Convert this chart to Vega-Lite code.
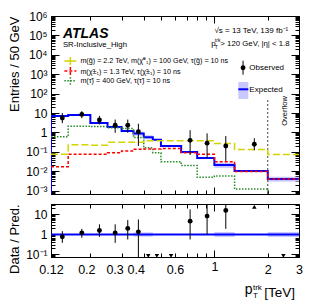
{
 "$schema": "https://vega.github.io/schema/vega-lite/v6.json",
 "padding": {"left": 7, "top": 9, "right": 0, "bottom": 0},
 "background": "white",
 "config": {
  "font": "Liberation Sans",
  "view": {"stroke": "black", "strokeWidth": 1},
  "axis": {"grid": false, "domainColor": "black", "tickColor": "black", "labelColor": "black", "titleColor": "black", "labelFont": "Liberation Sans", "titleFont": "Liberation Sans", "titleFontWeight": "normal", "labelFontSize": 12, "titleFontSize": 13, "labelOverlap": false, "labelFlush": false, "tickWidth": 1, "domainWidth": 1}
 },
 "bounds": "flush",
 "spacing": 10,
 "vconcat": [
  {
   "width": 248, "height": 178,
   "resolve": {"axis": {"x": "independent", "y": "independent"}},
   "layer": [
    {
     "data": {"values": [
      {"x": 0.12, "x2": 0.15, "lo": 6.44, "hi": 7.56},
      {"x": 0.15, "x2": 0.2, "lo": 7.27, "hi": 8.53},
      {"x": 0.2, "x2": 0.25, "lo": 2.8, "hi": 3.3},
      {"x": 0.25, "x2": 0.3, "lo": 1.75, "hi": 2.05},
      {"x": 0.3, "x2": 0.35, "lo": 1.07, "hi": 1.27},
      {"x": 0.35, "x2": 0.4, "lo": 0.68, "hi": 1.1},
      {"x": 0.4, "x2": 0.45, "lo": 0.44, "hi": 0.71},
      {"x": 0.45, "x2": 0.5, "lo": 0.37, "hi": 0.47},
      {"x": 0.5, "x2": 0.65, "lo": 0.184, "hi": 0.216},
      {"x": 0.65, "x2": 0.8, "lo": 0.09, "hi": 0.106},
      {"x": 0.8, "x2": 1.0, "lo": 0.044, "hi": 0.052},
      {"x": 1.0, "x2": 1.3, "lo": 0.015, "hi": 0.027},
      {"x": 1.3, "x2": 2.0, "lo": 0.0092, "hi": 0.0112},
      {"x": 2.0, "x2": 3.0, "lo": 0.0029, "hi": 0.0052}
     ]},
     "mark": {"type": "rect", "fill": "#c8c8ff", "clip": true},
     "encoding": {
      "x": {"field": "x", "type": "quantitative", "scale": {"type": "log", "domain": [0.12, 3], "nice": false},
       "axis": {"orient": "bottom", "values": [0.2, 0.3, 0.4, 0.5, 0.6, 0.7, 0.8, 0.9, 1, 2], "labels": false, "title": null, "tickSize": {"condition": {"test": "datum.value == 1", "value": -7}, "value": -4}}},
      "x2": {"field": "x2"},
      "y": {"field": "lo", "type": "quantitative", "scale": {"type": "log", "domain": [0.00067, 1000000], "nice": false},
       "axis": {"orient": "left", "title": "Entries / 50 GeV", "titleAnchor": "end", "titlePadding": 4, "minExtent": 26, "maxExtent": 26, "labelPadding": 12,
        "values": [0.0007, 0.0008, 0.0009, 0.001, 0.002, 0.003, 0.004, 0.005, 0.006, 0.007, 0.008, 0.009, 0.01, 0.02, 0.03, 0.04, 0.05, 0.06, 0.07, 0.08, 0.09, 0.1, 0.2, 0.3, 0.4, 0.5, 0.6, 0.7, 0.8, 0.9, 1, 2, 3, 4, 5, 6, 7, 8, 9, 10, 20, 30, 40, 50, 60, 70, 80, 90, 100, 200, 300, 400, 500, 600, 700, 800, 900, 1000, 2000, 3000, 4000, 5000, 6000, 7000, 8000, 9000, 10000, 20000, 30000, 40000, 50000, 60000, 70000, 80000, 90000, 100000, 200000, 300000, 400000, 500000, 600000, 700000, 800000, 900000, 1000000],
        "labelExpr": "datum.value==1000000?'10⁶':datum.value==100000?'10⁵':datum.value==10000?'10⁴':datum.value==1000?'10³':datum.value==100?'10²':datum.value==10?'10':datum.value==1?'1':datum.value==0.1?'10⁻¹':datum.value==0.01?'10⁻²':datum.value==0.001?'10⁻³':''",
        "tickSize": {"condition": {"test": "datum.value==1000000||datum.value==100000||datum.value==10000||datum.value==1000||datum.value==100||datum.value==10||datum.value==1||datum.value==0.1||datum.value==0.01||datum.value==0.001", "value": -8}, "value": -4}}},
      "y2": {"field": "hi"}
     }
    },
    {
     "data": {"values": [{"x": 2.0, "y": 0.00067, "y2": 59}]},
     "mark": {"type": "rule", "strokeDash": [2, 2], "color": "#444444", "strokeWidth": 1},
     "encoding": {
      "x": {"field": "x", "type": "quantitative", "scale": {"type": "log", "domain": [0.12, 3], "nice": false},
       "axis": {"orient": "top", "values": [0.2, 0.3, 0.4, 0.5, 0.6, 0.7, 0.8, 0.9, 1, 2], "labels": false, "title": null, "tickSize": {"condition": {"test": "datum.value == 1", "value": -7}, "value": -4}}},
      "y": {"field": "y", "type": "quantitative", "scale": {"type": "log", "domain": [0.00067, 1000000], "nice": false},
       "axis": {"orient": "right", "title": null, "labels": false,
        "values": [0.0007, 0.0008, 0.0009, 0.001, 0.002, 0.003, 0.004, 0.005, 0.006, 0.007, 0.008, 0.009, 0.01, 0.02, 0.03, 0.04, 0.05, 0.06, 0.07, 0.08, 0.09, 0.1, 0.2, 0.3, 0.4, 0.5, 0.6, 0.7, 0.8, 0.9, 1, 2, 3, 4, 5, 6, 7, 8, 9, 10, 20, 30, 40, 50, 60, 70, 80, 90, 100, 200, 300, 400, 500, 600, 700, 800, 900, 1000, 2000, 3000, 4000, 5000, 6000, 7000, 8000, 9000, 10000, 20000, 30000, 40000, 50000, 60000, 70000, 80000, 90000, 100000, 200000, 300000, 400000, 500000, 600000, 700000, 800000, 900000, 1000000],
        "tickSize": {"condition": {"test": "datum.value==1000000||datum.value==100000||datum.value==10000||datum.value==1000||datum.value==100||datum.value==10||datum.value==1||datum.value==0.1||datum.value==0.01||datum.value==0.001", "value": -8}, "value": -4}}},
      "y2": {"field": "y2"}
     }
    },
    {
     "data": {"values": [
      {"i": 0, "x": 0.12, "y": 0.0001}, {"i": 1, "x": 0.12, "y": 7.0}, {"i": 2, "x": 0.15, "y": 7.9}, {"i": 3, "x": 0.2, "y": 3.05}, {"i": 4, "x": 0.25, "y": 1.9}, {"i": 5, "x": 0.3, "y": 1.17}, {"i": 6, "x": 0.35, "y": 0.88}, {"i": 7, "x": 0.4, "y": 0.57}, {"i": 8, "x": 0.45, "y": 0.42}, {"i": 9, "x": 0.5, "y": 0.2}, {"i": 10, "x": 0.65, "y": 0.098}, {"i": 11, "x": 0.8, "y": 0.048}, {"i": 12, "x": 1.0, "y": 0.021}, {"i": 13, "x": 1.3, "y": 0.0102}, {"i": 14, "x": 2.0, "y": 0.004}, {"i": 15, "x": 3.0, "y": 0.004}
     ]},
     "mark": {"type": "line", "interpolate": "step-after", "color": "#0000ff", "strokeWidth": 2, "clip": true},
     "encoding": {
      "x": {"field": "x", "type": "quantitative", "scale": {"type": "log", "domain": [0.12, 3], "nice": false}, "axis": null},
      "y": {"field": "y", "type": "quantitative", "scale": {"type": "log", "domain": [0.00067, 1000000], "nice": false}, "axis": null},
      "order": {"field": "i", "type": "quantitative"}
     }
    },
    {
     "data": {"values": [
      {"i": 1, "x": 0.12, "y": 0.6}, {"i": 2, "x": 0.15, "y": 2.1}, {"i": 3, "x": 0.2, "y": 2.0}, {"i": 4, "x": 0.25, "y": 1.75}, {"i": 5, "x": 0.3, "y": 1.6}, {"i": 6, "x": 0.35, "y": 0.55}, {"i": 7, "x": 0.4, "y": 0.16}, {"i": 8, "x": 0.45, "y": 0.09}, {"i": 9, "x": 0.5, "y": 0.031}, {"i": 10, "x": 0.65, "y": 0.02}, {"i": 11, "x": 0.8, "y": 0.0049}, {"i": 12, "x": 1.0, "y": 0.0057}, {"i": 13, "x": 1.3, "y": 0.0012}, {"i": 14, "x": 2.0, "y": 0.0001}, {"i": 15, "x": 3.0, "y": 0.0001}
     ]},
     "mark": {"type": "line", "interpolate": "step-after", "color": "#2a8a2a", "strokeWidth": 1.5, "strokeDash": [1.5, 1.5], "clip": true},
     "encoding": {
      "x": {"field": "x", "type": "quantitative", "scale": {"type": "log", "domain": [0.12, 3], "nice": false}, "axis": null},
      "y": {"field": "y", "type": "quantitative", "scale": {"type": "log", "domain": [0.00067, 1000000], "nice": false}, "axis": null},
      "order": {"field": "i", "type": "quantitative"}
     }
    },
    {
     "data": {"values": [
      {"i": 1, "x": 0.12, "y": 0.017}, {"i": 2, "x": 0.15, "y": 0.074}, {"i": 3, "x": 0.2, "y": 0.074}, {"i": 4, "x": 0.25, "y": 0.089}, {"i": 5, "x": 0.3, "y": 0.11}, {"i": 6, "x": 0.35, "y": 0.134}, {"i": 7, "x": 0.4, "y": 0.14}, {"i": 8, "x": 0.45, "y": 0.14}, {"i": 9, "x": 0.5, "y": 0.147}, {"i": 10, "x": 0.65, "y": 0.09}, {"i": 11, "x": 0.8, "y": 0.074}, {"i": 12, "x": 1.0, "y": 0.031}, {"i": 13, "x": 1.3, "y": 0.0096}, {"i": 14, "x": 2.0, "y": 0.004}, {"i": 15, "x": 3.0, "y": 0.004}
     ]},
     "mark": {"type": "line", "interpolate": "step-after", "color": "#ff0000", "strokeWidth": 1.5, "strokeDash": [3, 2], "clip": true},
     "encoding": {
      "x": {"field": "x", "type": "quantitative", "scale": {"type": "log", "domain": [0.12, 3], "nice": false}, "axis": null},
      "y": {"field": "y", "type": "quantitative", "scale": {"type": "log", "domain": [0.00067, 1000000], "nice": false}, "axis": null},
      "order": {"field": "i", "type": "quantitative"}
     }
    },
    {
     "data": {"values": [
      {"i": 1, "x": 0.12, "y": 0.074}, {"i": 2, "x": 0.15, "y": 0.23}, {"i": 3, "x": 0.2, "y": 0.22}, {"i": 4, "x": 0.25, "y": 0.31}, {"i": 5, "x": 0.3, "y": 0.31}, {"i": 6, "x": 0.35, "y": 0.31}, {"i": 7, "x": 0.4, "y": 0.37}, {"i": 8, "x": 0.45, "y": 0.37}, {"i": 9, "x": 0.5, "y": 0.37}, {"i": 10, "x": 0.65, "y": 0.37}, {"i": 11, "x": 0.8, "y": 0.37}, {"i": 12, "x": 1.0, "y": 0.27}, {"i": 13, "x": 1.3, "y": 0.13}, {"i": 14, "x": 2.0, "y": 0.072}, {"i": 15, "x": 3.0, "y": 0.072}
     ]},
     "mark": {"type": "line", "interpolate": "step-after", "color": "#d4d400", "strokeWidth": 1.5, "strokeDash": [7, 3], "clip": true},
     "encoding": {
      "x": {"field": "x", "type": "quantitative", "scale": {"type": "log", "domain": [0.12, 3], "nice": false}, "axis": null},
      "y": {"field": "y", "type": "quantitative", "scale": {"type": "log", "domain": [0.00067, 1000000], "nice": false}, "axis": null},
      "order": {"field": "i", "type": "quantitative"}
     }
    },
    {
     "data": {"values": [
      {"x": 0.139, "y": 5.5, "lo": 3.0, "hi": 10}, {"x": 0.179, "y": 8.5, "lo": 5.4, "hi": 12.5}, {"x": 0.225, "y": 4.4, "lo": 2.6, "hi": 7.1}, {"x": 0.276, "y": 2.35, "lo": 0.96, "hi": 4.6}, {"x": 0.325, "y": 2.35, "lo": 0.96, "hi": 4.6}, {"x": 0.373, "y": 1.09, "lo": 0.2, "hi": 2.8}, {"x": 0.73, "y": 0.39, "lo": 0.069, "hi": 1.3}, {"x": 0.91, "y": 0.28, "lo": 0.05, "hi": 0.89}, {"x": 1.16, "y": 0.2, "lo": 0.034, "hi": 0.65}, {"x": 1.68, "y": 0.245, "lo": 0.12, "hi": 0.5}, {"x": 1.451, "y": 2163, "lo": 942, "hi": 4970}
     ]},
     "layer": [
      {"mark": {"type": "rule", "color": "black", "strokeWidth": 1},
       "encoding": {
        "x": {"field": "x", "type": "quantitative", "scale": {"type": "log", "domain": [0.12, 3], "nice": false}, "axis": null},
        "y": {"field": "lo", "type": "quantitative", "scale": {"type": "log", "domain": [0.00067, 1000000], "nice": false}, "axis": null},
        "y2": {"field": "hi"}}},
      {"mark": {"type": "point", "filled": true, "color": "black", "opacity": 1, "size": 24},
       "encoding": {
        "x": {"field": "x", "type": "quantitative", "scale": {"type": "log", "domain": [0.12, 3], "nice": false}, "axis": null},
        "y": {"field": "y", "type": "quantitative", "scale": {"type": "log", "domain": [0.00067, 1000000], "nice": false}, "axis": null}}}
     ]
    },
    {
     "data": {"values": [{"x": 1.365, "x2": 1.554, "lo": 52.7, "hi": 396}]},
     "mark": {"type": "rect", "fill": "#c8c8ff"},
     "encoding": {
      "x": {"field": "x", "type": "quantitative", "scale": {"type": "log", "domain": [0.12, 3], "nice": false}, "axis": null},
      "x2": {"field": "x2"},
      "y": {"field": "lo", "type": "quantitative", "scale": {"type": "log", "domain": [0.00067, 1000000], "nice": false}, "axis": null},
      "y2": {"field": "hi"}
     }
    },
    {
     "data": {"values": [{"x": 1.365, "x2": 1.554, "y": 167, "y2": 167}]},
     "mark": {"type": "rule", "color": "#0000ff", "strokeWidth": 2},
     "encoding": {
      "x": {"field": "x", "type": "quantitative", "scale": {"type": "log", "domain": [0.12, 3], "nice": false}, "axis": null},
      "x2": {"field": "x2"},
      "y": {"field": "y", "type": "quantitative", "scale": {"type": "log", "domain": [0.00067, 1000000], "nice": false}, "axis": null},
      "y2": {"field": "y2"}
     }
    },
    {
     "data": {"values": [{"x": 0.1427, "x2": 0.1667, "y": 4786, "y2": 4786}, {"x": 0.1543, "x2": 0.1543, "y": 2978, "y2": 7690}]},
     "mark": {"type": "rule", "color": "#d4d400", "strokeWidth": 1.5},
     "encoding": {
      "x": {"field": "x", "type": "quantitative", "scale": {"type": "log", "domain": [0.12, 3], "nice": false}, "axis": null},
      "x2": {"field": "x2"},
      "y": {"field": "y", "type": "quantitative", "scale": {"type": "log", "domain": [0.00067, 1000000], "nice": false}, "axis": null},
      "y2": {"field": "y2"}
     }
    },
    {
     "data": {"values": [{"x": 0.1427, "x2": 0.1667, "y": 1462, "y2": 1462}, {"x": 0.1543, "x2": 0.1543, "y": 910, "y2": 2350}]},
     "mark": {"type": "rule", "color": "#ff0000", "strokeWidth": 1.5, "strokeDash": [3, 2]},
     "encoding": {
      "x": {"field": "x", "type": "quantitative", "scale": {"type": "log", "domain": [0.12, 3], "nice": false}, "axis": null},
      "x2": {"field": "x2"},
      "y": {"field": "y", "type": "quantitative", "scale": {"type": "log", "domain": [0.00067, 1000000], "nice": false}, "axis": null},
      "y2": {"field": "y2"}
     }
    },
    {
     "data": {"values": [{"x": 0.1427, "x2": 0.1667, "y": 462, "y2": 462}, {"x": 0.1543, "x2": 0.1543, "y": 288, "y2": 742}]},
     "mark": {"type": "rule", "color": "#2a8a2a", "strokeWidth": 1.5, "strokeDash": [1.5, 1.5]},
     "encoding": {
      "x": {"field": "x", "type": "quantitative", "scale": {"type": "log", "domain": [0.12, 3], "nice": false}, "axis": null},
      "x2": {"field": "x2"},
      "y": {"field": "y", "type": "quantitative", "scale": {"type": "log", "domain": [0.00067, 1000000], "nice": false}, "axis": null},
      "y2": {"field": "y2"}
     }
    },
    {
     "data": {"values": [
      {"x": 0.14, "y": 23800, "t": "SR-Inclusive_High", "s": 7.8},
      {"x": 0.1757, "y": 3565, "t": "m(g̃) = 2.2 TeV, m(χ̃⁰₁) = 100 GeV, τ(g̃) = 10 ns", "s": 7.2},
      {"x": 0.1757, "y": 1087, "t": "m(χ̃±₁) = 1.3 TeV, τ(χ̃±₁) = 10 ns", "s": 7.2},
      {"x": 0.1757, "y": 344, "t": "m(τ̃) =  400 GeV, τ(τ̃) = 10 ns", "s": 7.2},
      {"x": 1.575, "y": 1553, "t": "Observed", "s": 8},
      {"x": 1.575, "y": 121, "t": "Expected", "s": 8},
      {"x": 0.961, "y": 28500, "t": "p", "s": 8},
      {"x": 1.0065, "y": 45700, "t": "trk", "s": 5},
      {"x": 1.0065, "y": 21100, "t": "T", "s": 5},
      {"x": 1.081, "y": 28500, "t": "> 120 GeV, |η| < 1.8", "s": 7.8}
     ]},
     "mark": {"type": "text", "align": "left", "baseline": "alphabetic", "color": "black"},
     "encoding": {
      "x": {"field": "x", "type": "quantitative", "scale": {"type": "log", "domain": [0.12, 3], "nice": false}, "axis": null},
      "y": {"field": "y", "type": "quantitative", "scale": {"type": "log", "domain": [0.00067, 1000000], "nice": false}, "axis": null},
      "text": {"field": "t"},
      "size": {"field": "s", "type": "quantitative", "scale": null}
     }
    },
    {
     "data": {"values": [{"x": 2.61, "y": 141000, "t": "√s = 13 TeV,  139 fb⁻¹"}]},
     "mark": {"type": "text", "align": "right", "baseline": "alphabetic", "color": "black", "fontSize": 8},
     "encoding": {
      "x": {"field": "x", "type": "quantitative", "scale": {"type": "log", "domain": [0.12, 3], "nice": false}, "axis": null},
      "y": {"field": "y", "type": "quantitative", "scale": {"type": "log", "domain": [0.00067, 1000000], "nice": false}, "axis": null},
      "text": {"field": "t"}
     }
    },
    {
     "data": {"values": [{"x": 0.14, "y": 73400, "t": "ATLAS"}]},
     "mark": {"type": "text", "align": "left", "baseline": "alphabetic", "color": "black", "fontSize": 14, "fontWeight": "bold", "fontStyle": "italic"},
     "encoding": {
      "x": {"field": "x", "type": "quantitative", "scale": {"type": "log", "domain": [0.12, 3], "nice": false}, "axis": null},
      "y": {"field": "y", "type": "quantitative", "scale": {"type": "log", "domain": [0.00067, 1000000], "nice": false}, "axis": null},
      "text": {"field": "t"}
     }
    },
    {
     "data": {"values": [{"x": 2.51, "y": 12.7, "t": "Overflow"}]},
     "mark": {"type": "text", "align": "center", "baseline": "middle", "angle": 270, "color": "black", "fontSize": 7.5},
     "encoding": {
      "x": {"field": "x", "type": "quantitative", "scale": {"type": "log", "domain": [0.12, 3], "nice": false}, "axis": null},
      "y": {"field": "y", "type": "quantitative", "scale": {"type": "log", "domain": [0.00067, 1000000], "nice": false}, "axis": null},
      "text": {"field": "t"}
     }
    }
   ]
  },
  {
   "width": 248, "height": 53,
   "resolve": {"axis": {"x": "independent", "y": "independent"}},
   "layer": [
    {
     "data": {"values": [
      {"x": 0.12, "x2": 0.35, "lo": 0.97, "hi": 1.03},
      {"x": 0.35, "x2": 0.45, "lo": 0.78, "hi": 1.27},
      {"x": 0.45, "x2": 1.0, "lo": 0.97, "hi": 1.03},
      {"x": 1.0, "x2": 1.3, "lo": 0.75, "hi": 1.32},
      {"x": 1.3, "x2": 2.0, "lo": 0.95, "hi": 1.05},
      {"x": 2.0, "x2": 3.0, "lo": 0.75, "hi": 1.32}
     ]},
     "mark": {"type": "rect", "fill": "#c8c8ff", "clip": true},
     "encoding": {
      "x": {"field": "x", "type": "quantitative", "scale": {"type": "log", "domain": [0.12, 3], "nice": false},
       "axis": {"orient": "bottom", "values": [0.12, 0.2, 0.3, 0.4, 0.5, 0.6, 0.7, 0.8, 0.9, 1, 2, 3], "labelExpr": "indexof([0.12, 0.2, 0.3, 0.4, 0.6, 1, 2, 3], datum.value) >= 0 ? '' + datum.value : ''", "labelPadding": 10, "labelFontSize": 12.5, "title": null,
        "labelOffset": {"condition": [{"test": "datum.value == 0.2", "value": -4}, {"test": "datum.value == 0.3", "value": -7}, {"test": "datum.value == 0.4", "value": -8}], "value": 0},
        "tickSize": {"condition": {"test": "datum.value == 1", "value": -7}, "value": -4}}},
      "x2": {"field": "x2"},
      "y": {"field": "lo", "type": "quantitative", "scale": {"type": "log", "domain": [0.075, 33], "nice": false},
       "axis": {"orient": "left", "title": "Data / Pred.", "titleAnchor": "end", "titlePadding": 4, "minExtent": 26, "maxExtent": 26, "labelPadding": 12,
        "values": [0.08, 0.09, 0.1, 0.2, 0.3, 0.4, 0.5, 0.6, 0.7, 0.8, 0.9, 1, 2, 3, 4, 5, 6, 7, 8, 9, 10, 20, 30],
        "labelExpr": "datum.value==10?'10':datum.value==1?'1':datum.value==0.1?'10⁻¹':''",
        "tickSize": {"condition": {"test": "datum.value==10||datum.value==1||datum.value==0.1", "value": -8}, "value": -4}}},
      "y2": {"field": "hi"}
     }
    },
    {
     "data": {"values": [{"x": 0.12, "x2": 3, "y": 1, "y2": 1}]},
     "mark": {"type": "rule", "color": "#0000ff", "strokeWidth": 2},
     "encoding": {
      "x": {"field": "x", "type": "quantitative", "scale": {"type": "log", "domain": [0.12, 3], "nice": false},
       "axis": {"orient": "top", "values": [0.2, 0.3, 0.4, 0.5, 0.6, 0.7, 0.8, 0.9, 1, 2], "labels": false, "title": null, "tickSize": {"condition": {"test": "datum.value == 1", "value": -7}, "value": -4}}},
      "x2": {"field": "x2"},
      "y": {"field": "y", "type": "quantitative", "scale": {"type": "log", "domain": [0.075, 33], "nice": false},
       "axis": {"orient": "right", "title": null, "labels": false,
        "values": [0.08, 0.09, 0.1, 0.2, 0.3, 0.4, 0.5, 0.6, 0.7, 0.8, 0.9, 1, 2, 3, 4, 5, 6, 7, 8, 9, 10, 20, 30],
        "tickSize": {"condition": {"test": "datum.value==10||datum.value==1||datum.value==0.1", "value": -8}, "value": -4}}},
      "y2": {"field": "y2"}
     }
    },
    {
     "data": {"values": [
      {"x": 0.139, "y": 0.76, "lo": 0.38, "hi": 1.46}, {"x": 0.179, "y": 1.2, "lo": 0.68, "hi": 1.9}, {"x": 0.225, "y": 1.58, "lo": 0.76, "hi": 3.2}, {"x": 0.276, "y": 1.2, "lo": 0.38, "hi": 3.2}, {"x": 0.325, "y": 2.0, "lo": 0.56, "hi": 5.2}, {"x": 0.373, "y": 1.35, "lo": 0.06, "hi": 5.6}, {"x": 0.73, "y": 4.6, "lo": 0.56, "hi": 17.8}, {"x": 0.91, "y": 8.2, "lo": 1.0, "hi": 40}, {"x": 1.16, "y": 15.8, "lo": 1.9, "hi": 40}
     ]},
     "layer": [
      {"mark": {"type": "rule", "color": "black", "strokeWidth": 1, "clip": true},
       "encoding": {
        "x": {"field": "x", "type": "quantitative", "scale": {"type": "log", "domain": [0.12, 3], "nice": false}, "axis": null},
        "y": {"field": "lo", "type": "quantitative", "scale": {"type": "log", "domain": [0.075, 33], "nice": false}, "axis": null},
        "y2": {"field": "hi"}}},
      {"mark": {"type": "point", "filled": true, "color": "black", "opacity": 1, "size": 24},
       "encoding": {
        "x": {"field": "x", "type": "quantitative", "scale": {"type": "log", "domain": [0.12, 3], "nice": false}, "axis": null},
        "y": {"field": "y", "type": "quantitative", "scale": {"type": "log", "domain": [0.075, 33], "nice": false}, "axis": null}}}
     ]
    },
    {
     "data": {"values": [{"x": 0.424, "y": 0.085}, {"x": 0.474, "y": 0.085}, {"x": 0.57, "y": 0.085}, {"x": 2.45, "y": 0.085}]},
     "mark": {"type": "point", "shape": "triangle-down", "filled": true, "color": "black", "opacity": 1, "size": 20},
     "encoding": {
      "x": {"field": "x", "type": "quantitative", "scale": {"type": "log", "domain": [0.12, 3], "nice": false}, "axis": null},
      "y": {"field": "y", "type": "quantitative", "scale": {"type": "log", "domain": [0.075, 33], "nice": false}, "axis": null}
     }
    },
    {
     "data": {"values": [{"x": 1.68, "y": 24}]},
     "mark": {"type": "point", "shape": "triangle-up", "filled": true, "color": "black", "opacity": 1, "size": 20},
     "encoding": {
      "x": {"field": "x", "type": "quantitative", "scale": {"type": "log", "domain": [0.12, 3], "nice": false}, "axis": null},
      "y": {"field": "y", "type": "quantitative", "scale": {"type": "log", "domain": [0.075, 33], "nice": false}, "axis": null}
     }
    },
    {
     "data": {"values": [
      {"x": 1.482, "y": 0.00108, "t": "p", "s": 14},
      {"x": 1.65, "y": 0.00175, "t": "trk", "s": 8},
      {"x": 1.65, "y": 0.00068, "t": "T", "s": 8},
      {"x": 1.91, "y": 0.00077, "t": "[TeV]", "s": 13.5}
     ]},
     "mark": {"type": "text", "align": "left", "baseline": "alphabetic", "color": "black"},
     "encoding": {
      "x": {"field": "x", "type": "quantitative", "scale": {"type": "log", "domain": [0.12, 3], "nice": false}, "axis": null},
      "y": {"field": "y", "type": "quantitative", "scale": {"type": "log", "domain": [0.075, 33], "nice": false}, "axis": null},
      "text": {"field": "t"},
      "size": {"field": "s", "type": "quantitative", "scale": null}
     }
    }
   ]
  }
 ]
}
